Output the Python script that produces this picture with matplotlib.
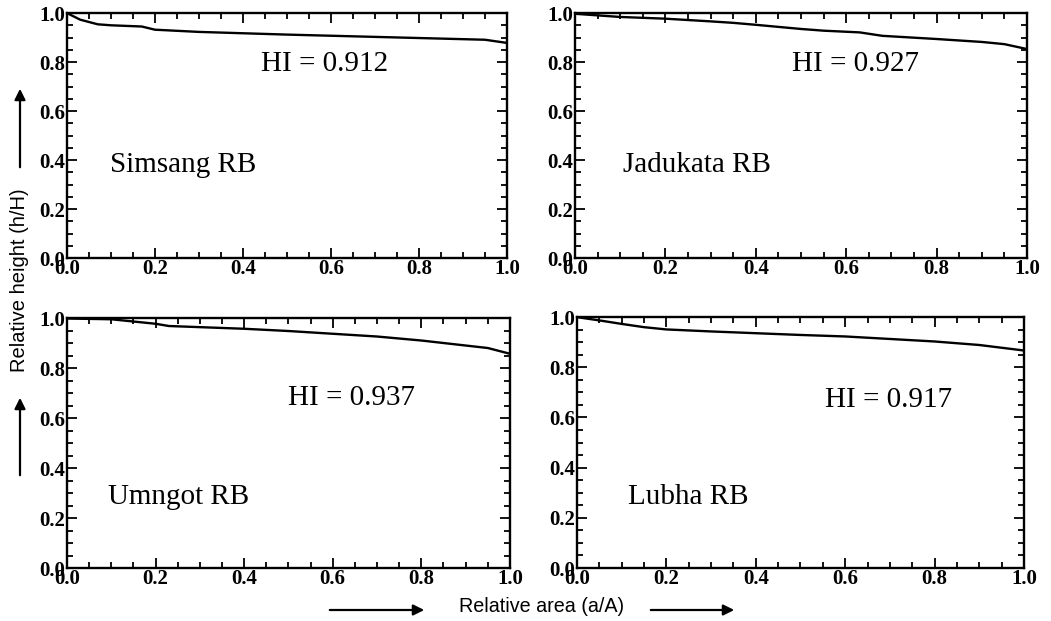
import matplotlib
matplotlib.use("Agg")
import matplotlib.pyplot as plt
from matplotlib.ticker import MultipleLocator

# ---- data ----
simsang_x = [0.0, 0.03, 0.07, 0.10, 0.17, 0.20, 0.30, 0.50, 0.80, 0.95, 1.0]
simsang_y = [1.0, 0.973, 0.954, 0.950, 0.945, 0.932, 0.923, 0.912, 0.898, 0.891, 0.878]

jadukata_x = [0.0, 0.10, 0.20, 0.30, 0.35, 0.40, 0.50, 0.55, 0.63, 0.68, 0.80, 0.90, 0.95, 1.0]
jadukata_y = [0.997, 0.984, 0.977, 0.966, 0.960, 0.952, 0.935, 0.928, 0.921, 0.907, 0.894, 0.882, 0.873, 0.853]

umngot_x = [0.0, 0.10, 0.20, 0.23, 0.40, 0.50, 0.60, 0.70, 0.80, 0.90, 0.95, 1.0]
umngot_y = [0.998, 0.995, 0.977, 0.968, 0.957, 0.948, 0.937, 0.926, 0.910, 0.890, 0.880, 0.857]

lubha_x = [0.0, 0.05, 0.10, 0.15, 0.20, 0.30, 0.40, 0.50, 0.60, 0.70, 0.80, 0.90, 1.0]
lubha_y = [1.0, 0.987, 0.973, 0.960, 0.951, 0.943, 0.936, 0.929, 0.923, 0.913, 0.903, 0.889, 0.867]

basins = ["Simsang RB", "Jadukata RB", "Umngot RB", "Lubha RB"]
hi_labels = ["HI = 0.912", "HI = 0.927", "HI = 0.937", "HI = 0.917"]
xs = [simsang_x, jadukata_x, umngot_x, lubha_x]
ys = [simsang_y, jadukata_y, umngot_y, lubha_y]

tick_vals = [0.0, 0.2, 0.4, 0.6, 0.8, 1.0]
tick_labels = ["0.0", "0.2", "0.4", "0.6", "0.8", "1.0"]

# ---- layout ----
fig = plt.figure(figsize=(10.51, 6.21), dpi=100)
positions = [
    [0.0637, 0.5845, 0.4187, 0.3945],
    [0.5470, 0.5845, 0.4302, 0.3945],
    [0.0637, 0.0853, 0.4215, 0.4026],
    [0.5490, 0.0853, 0.4253, 0.4040],
]
hi_pos = [(0.44, 0.79), (0.48, 0.79), (0.50, 0.68), (0.555, 0.67)]
name_pos = [(0.098, 0.38), (0.106, 0.38), (0.093, 0.284), (0.114, 0.284)]

serif = ["Liberation Serif", "DejaVu Serif"]
for i in range(4):
    ax = fig.add_axes(positions[i])
    ax.plot(xs[i], ys[i], color="black", lw=1.7)
    ax.set_xlim(0, 1.0)
    ax.set_ylim(0, 1.0)
    ax.set_xticks(tick_vals)
    ax.set_xticklabels(tick_labels)
    ax.set_yticks(tick_vals)
    ax.set_yticklabels(tick_labels)
    ax.xaxis.set_minor_locator(MultipleLocator(0.05))
    ax.yaxis.set_minor_locator(MultipleLocator(0.05))
    ax.tick_params(which="both", direction="in", top=True, right=True, width=1.3, colors="black")
    ax.tick_params(which="major", length=7, pad=1)
    ax.tick_params(which="minor", length=4)
    for lab in ax.get_xticklabels() + ax.get_yticklabels():
        lab.set_fontfamily(serif)
        lab.set_fontweight("bold")
        lab.set_fontsize(15)
    for sp in ax.spines.values():
        sp.set_linewidth(1.7)
    ax.text(hi_pos[i][0], hi_pos[i][1], hi_labels[i], transform=ax.transAxes,
            fontsize=21, family=serif, ha="left", va="center")
    ax.text(name_pos[i][0], name_pos[i][1], basins[i], transform=ax.transAxes,
            fontsize=21, family=serif, ha="left", va="center")

# axis labels and arrows
sans = ["Liberation Sans", "DejaVu Sans"]
fig.text(0.019, 1 - 280 / 621, "Relative height (h/H)", rotation=90, ha="center", va="center",
         fontsize=14.5, family=sans)
fig.text(542 / 1051, 1 - 607 / 621, "Relative area (a/A)", ha="center", va="center",
         fontsize=14.2, family=sans)

arrow_kw = dict(arrowstyle="-|>", color="black", lw=1.6, mutation_scale=16)
def farrow(x0, y0, x1, y1):
    fig.add_artist(matplotlib.patches.FancyArrowPatch(
        (x0 / 1051, 1 - y0 / 621), (x1 / 1051, 1 - y1 / 621),
        transform=fig.transFigure, **arrow_kw))

farrow(20, 170, 20, 86)
farrow(20, 478, 20, 395)
farrow(327, 610, 427, 610)
farrow(648, 610, 737, 610)

fig.savefig("out.png", dpi=100)
